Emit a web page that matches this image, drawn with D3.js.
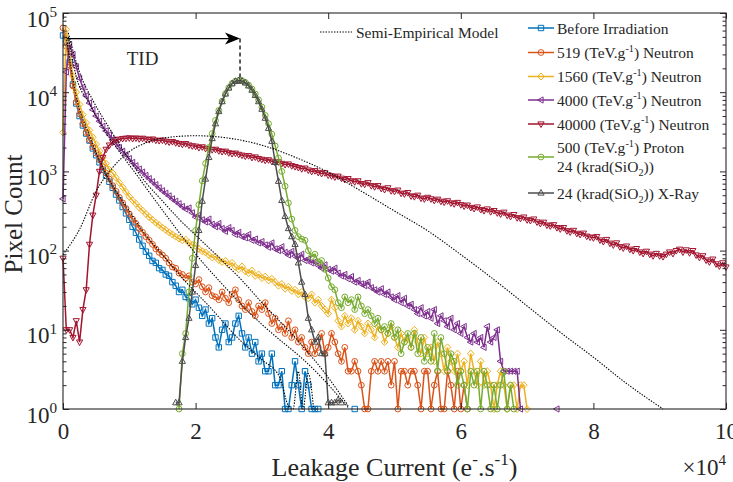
<!DOCTYPE html>
<html>
<head>
<meta charset="utf-8">
<script src="https://cdnjs.cloudflare.com/ajax/libs/d3/7.8.5/d3.min.js"></script>
<style>
body { margin: 0; background: #fff; }
svg { font-family: "Liberation Serif", "Times New Roman", serif; }
</style>
</head>
<body>
<svg id="chart" width="733" height="482"></svg>
<script>
// histogram bins, e-/s
var binWidth = 500;

var blueStart = 0;
var blueCounts = [52000,45000,24000,12500,7200,5000,3800,3000,2450,1950,
    1600,1300,1050,880,740,620,510,430,355,295,
    245,200,168,138,115,97,86,74,70,60,
    57,50,48,40,36,30,32,26,25,21,
    24,19,15,18,12,14,8,6,10,12,
    7,8,12,15,9,6,8,5,7,4,
    5,3,3,5,2,2,3,1,1,2,
    4,2,1,3,2,1,1,1,null,null,
    null,null,null,null,null,null,null,null,1];

var orangeStart = 0;
var orangeCounts = [65000,38000,22000,12000,7500,5300,4000,3100,2500,2050,
    1700,1400,1150,950,800,660,560,470,400,340,
    290,250,220,190,170,150,135,120,105,95,
    88,80,70,62,60,52,50,45,48,40,
    38,43,35,30,34,27,26,24,30,25,
    22,28,32,24,20,18,22,17,15,20,
    18,22,16,12,14,10,11,9,13,8,
    10,7,8,6,5,7,5,6,9,5,
    6,9,7,5,4,6,3,3,4,3,
    2,1,1,3,4,3,4,3,4,2,
    4,1,3,3,2,3,3,2,1,3,
    3,1,2,3,1,1,3,2,1,3,
    1,2,1];

var yellowStart = 0;
var yellowCounts = [3100,62000,30000,16000,10000,7000,5200,4100,3300,2700,
    2200,1800,1500,1250,1050,950,830,720,630,550,
    480,430,390,350,320,290,265,245,225,210,
    195,182,170,160,150,142,135,138,125,118,
    115,105,98,95,88,82,84,76,72,74,
    66,70,62,58,63,55,52,56,48,50,
    45,47,42,44,40,36,38,33,35,31,
    32,28,30,26,25,28,22,24,20,18,
    16,24,19,13,11,15,12,14,10,13,
    11,9,12,10,8,11,10,7,9,11,
    8,6,9,7,8,6,10,7,5,8,
    5,6,4,7,5,3,6,4,3,5,
    3,4,2,5,3,2,4,2,3,2,
    1,2,3,2,1,2,2,1,2,2,
    1];

var purpleStart = 0;
var purpleCounts = [450,18000,40000,30000,21000,15000,11500,9000,7300,6000,
    5000,4300,3700,3250,2900,2550,2250,2000,1800,1620,
    1450,1300,1180,1070,980,890,810,740,680,620,
    570,530,490,450,420,390,360,335,345,300,
    265,280,245,230,250,215,200,220,190,175,
    195,180,160,170,150,145,160,135,140,125,
    130,118,110,125,105,100,112,95,88,98,
    85,80,90,75,78,70,72,65,60,66,
    58,55,60,52,48,50,44,47,40,42,
    38,36,40,34,32,30,33,28,30,26,
    24,27,22,25,20,21,18,16,19,15,
    17,14,18,12,15,13,11,14,10,12,
    9,11,8,7,9,7,8,6,11,7,
    8,10,4,3,3,3,3,3,1,null,
    null,null,null,null,null,null,null,null,null,1];

var redStart = 0;
var redCounts = [80,10,10,8,13,7,18,32,120,280,
    500,1000,1500,1900,2150,2350,2500,2550,2600,2620,
    2650,2600,2640,2580,2620,2560,2520,2560,2480,2450,
    2480,2400,2350,2380,2300,2250,2200,2240,2150,2100,
    2080,2000,2040,1950,1920,1880,1900,1820,1780,1800,
    1720,1680,1700,1640,1600,1560,1580,1500,1520,1450,
    1420,1380,1400,1340,1300,1320,1260,1220,1240,1180,
    1150,1120,1080,1100,1040,1000,1020,970,940,960,
    900,880,850,870,820,790,810,760,740,760,
    700,690,720,660,640,660,610,590,620,570,
    560,580,530,520,540,490,480,500,460,450,
    470,450,430,445,420,410,425,400,390,405,
    380,365,375,350,340,355,330,320,335,310,
    320,300,290,305,280,270,285,260,255,265,
    245,240,250,230,220,228,210,205,212,195,
    188,195,178,172,180,165,160,166,152,148,
    145,150,136,130,138,124,118,125,112,108,
    114,104,100,106,96,92,98,90,86,92,
    86,84,90,96,92,100,104,96,102,94,
    100,88,82,86,76,72,78,68,64,70,
    62];

var greenStart = 17500;
var greenCounts = [1,5,9,30,80,180,380,760,1260,2000,
    3000,4400,5900,7700,9600,11400,12900,13800,14100,14000,
    13300,12300,11000,9500,8000,6500,5100,4000,2950,2100,
    1480,1000,650,400,250,180,150,140,135,100,
    84,90,72,75,58,45,35,32,22,19,
    26,22,24,18,26,20,16,18,15,12,
    14,10,11,9,12,8,10,5,7,9,
    6,9,5,8,4,6,4,9,3,8,
    5,3,5,4,2,3,2,1,3,2,
    3,1,3,2,1,2,1,2,3,1,
    2,1];

var grayStart = 17000;
var grayCounts = [1.2,1.2,4,8,14,30,65,180,420,800,
    1500,2600,4000,5700,7600,9500,11300,12800,13700,14000,
    13800,13100,12000,10600,9100,7600,6100,4700,3500,2400,
    1300,750,430,270,190,150,120,70,40,28,
    14,10,7,8,5,5,1.2,1.2,1.2,1.3,
    1.2];

// semi-empirical model curves
var modelWideX = [0,2500,5000,7500,10000,12500,15000,20000,25000,30000,35000,40000,45000,50000,55000,60000,65000,70000,75000,80000,85000,90500];
var modelWideY = [89,186,562,1120,1780,2290,2630,2820,2630,2140,1510,977,562,316,178,89,43,20,9.3,4.5,2.1,1];
var modelAX = [800,2000,4000,6000,8500,11000,13500,16000,18500,21000,23500,26000,30000,33000,36000,39000,43000];
var modelAY = [50000,15800,7100,3550,1780,930,480,250,132,72,42,25,11.7,7.1,4.4,2.5,1.05];
var modelBX = [800,2500,4500,7100,10000,12500,14600,17500,20700,23700,27000,30000,35000,40000,43000];
var modelBY = [56000,17800,7900,3400,1410,720,460,250,138,79,42,22,8,2.5,1.1];
var modelCX = [500,2000,4000,6000,8000,9600,12000,15000,18000,22000,26700,30000,32700,34000,34700,35500,36200,37000,37800];
var modelCY = [50000,8900,2800,1120,560,355,178,89,45,20,7.4,4.2,2.5,1.1,1,3,1,2.8,1];

var xTicks = [0, 20000, 40000, 60000, 80000, 100000];
var yMajor = [1, 10, 100, 1000, 10000, 100000];

var series = [
    { label: [["Before Irradiation"]], color: "#0072BD", marker: "square", start: blueStart, counts: blueCounts },
    { label: [["519 (TeV.g"], ["-1", "sup"], [") Neutron"]], color: "#D95319", marker: "circle", start: orangeStart, counts: orangeCounts },
    { label: [["1560 (TeV.g"], ["-1", "sup"], [") Neutron"]], color: "#EDB120", marker: "diamond", start: yellowStart, counts: yellowCounts },
    { label: [["4000 (TeV.g"], ["-1", "sup"], [") Neutron"]], color: "#7E2F8E", marker: "left", start: purpleStart, counts: purpleCounts },
    { label: [["40000 (TeV.g"], ["-1", "sup"], [") Neutron"]], color: "#A2142F", marker: "down", start: redStart, counts: redCounts },
    { label: [["500 (TeV.g"], ["-1", "sup"], [") Proton"]], label2: [["24 (krad(SiO"], ["2", "sub"], ["))"]], color: "#77AC30", marker: "circle", start: greenStart, counts: greenCounts },
    { label: [["24 (krad(SiO"], ["2", "sub"], [")) X-Ray"]], color: "#4D4D4D", marker: "up", start: grayStart, counts: grayCounts }
];

var markerPaths = {
    square: "M-2.7,-2.7H2.7V2.7H-2.7Z",
    circle: "M-2.9,0A2.9,2.9 0 1,0 2.9,0A2.9,2.9 0 1,0 -2.9,0Z",
    diamond: "M0,-3.5L3.3,0L0,3.5L-3.3,0Z",
    up: "M0,-3.5L3.1,2.1L-3.1,2.1Z",
    down: "M0,3.5L3.1,-2.1L-3.1,-2.1Z",
    left: "M-3.5,0L2.1,-3.1L2.1,3.1Z"
};

var svg = d3.select("#chart");
var textColor = "#262626";

var x = d3.scaleLinear().domain([0, 100000]).range([63, 726]);
var y = d3.scaleLog().domain([1, 1e5]).range([409, 13]);

function addRich(text, parts, size) {
    var off = 0;
    parts.forEach(function (p) {
        var target = p[1] === "sup" ? -0.42 * size : (p[1] === "sub" ? 0.28 * size : 0);
        var ts = text.append("tspan").text(p[0]).attr("dy", target - off);
        if (p[1]) ts.attr("font-size", size * 0.66);
        off = target;
    });
}

// data lines and markers
var line = d3.line()
    .defined(d => d.y != null)
    .x(d => x(d.x))
    .y(d => y(d.y));

series.forEach(function (s) {
    var pts = s.counts.map((c, i) => ({ x: s.start + i * binWidth, y: c }));
    svg.append("path")
        .datum(pts)
        .attr("d", line)
        .attr("fill", "none")
        .attr("stroke", s.color)
        .attr("stroke-width", 1.5);
    svg.append("g").selectAll("path")
        .data(pts.filter(d => d.y != null))
        .enter()
        .append("path")
        .attr("d", markerPaths[s.marker])
        .attr("transform", d => "translate(" + x(d.x) + "," + y(d.y) + ")")
        .attr("fill", "none")
        .attr("stroke", s.color)
        .attr("stroke-width", 1);
});

// model curves
var modelLine = d3.line()
    .x(d => x(d[0]))
    .y(d => y(d[1]))
    .curve(d3.curveMonotoneX);

[[modelWideX, modelWideY], [modelAX, modelAY], [modelBX, modelBY], [modelCX, modelCY]].forEach(function (m) {
    svg.append("path")
        .datum(m[0].map((v, i) => [v, m[1][i]]))
        .attr("d", modelLine)
        .attr("fill", "none")
        .attr("stroke", "#000")
        .attr("stroke-width", 1.1)
        .attr("stroke-dasharray", "1.4,1.4");
});

// TID arrow
var arrowY = y(47500), arrowX0 = x(600), arrowX1 = x(26700);
svg.append("line")
    .attr("x1", arrowX0).attr("x2", arrowX1 - 6)
    .attr("y1", arrowY).attr("y2", arrowY)
    .attr("stroke", "#000").attr("stroke-width", 1.4);
svg.append("path")
    .attr("d", "M" + arrowX1 + "," + arrowY + "l-15,-6l4,6l-4,6z")
    .attr("fill", "#000");
svg.append("line")
    .attr("x1", arrowX1).attr("x2", arrowX1)
    .attr("y1", arrowY).attr("y2", y(14000))
    .attr("stroke", "#000").attr("stroke-width", 1.3)
    .attr("stroke-dasharray", "4,3");
svg.append("text")
    .attr("x", x(12000)).attr("y", 65)
    .attr("text-anchor", "middle")
    .attr("font-size", 19)
    .attr("fill", textColor)
    .text("TID");

// axes box
svg.append("rect")
    .attr("x", 63).attr("y", 13)
    .attr("width", 663).attr("height", 396)
    .attr("fill", "none").attr("stroke", textColor).attr("stroke-width", 1.1);

var tickFont = 23;
svg.append("g")
    .attr("transform", "translate(0,409)")
    .call(d3.axisBottom(x).tickValues(xTicks).tickSize(-6).tickPadding(14)
        .tickFormat(d => d / 10000));
svg.append("g")
    .attr("transform", "translate(0,13)")
    .call(d3.axisTop(x).tickValues(xTicks).tickSize(-6).tickFormat(""));

var yMinor = y.ticks().filter(v => yMajor.indexOf(v) < 0);
svg.append("g")
    .attr("transform", "translate(63,0)")
    .call(d3.axisLeft(y).tickValues(yMinor).tickSize(-3.5).tickFormat(""));
svg.append("g")
    .attr("transform", "translate(726,0)")
    .call(d3.axisRight(y).tickValues(yMinor).tickSize(-3.5).tickFormat(""));
svg.append("g")
    .attr("transform", "translate(726,0)")
    .call(d3.axisRight(y).tickValues(yMajor).tickSize(-6).tickFormat(""));
var yAxis = svg.append("g")
    .attr("transform", "translate(63,0)")
    .call(d3.axisLeft(y).tickValues(yMajor).tickSize(-6).tickPadding(6).tickFormat(""));

yAxis.selectAll(".tick text").each(function (d) {
    var t = d3.select(this).attr("dy", null).attr("y", 13);
    addRich(t, [["10"], [String(Math.round(Math.log10(d))), "sup"]], tickFont);
});

svg.selectAll(".domain").remove();
svg.selectAll(".tick line").attr("stroke", textColor);
svg.selectAll(".tick text")
    .attr("font-family", "Liberation Serif")
    .attr("font-size", tickFont)
    .attr("fill", textColor);

// axis labels
var xl = svg.append("text")
    .attr("x", x(50000)).attr("y", 476)
    .attr("text-anchor", "middle")
    .attr("font-size", 26)
    .attr("fill", textColor);
addRich(xl, [["Leakage Current (e"], ["-", "sup"], [".s"], ["-1", "sup"], [")"]], 26);

svg.append("text")
    .attr("transform", "translate(22,214) rotate(-90)")
    .attr("text-anchor", "middle")
    .attr("font-size", 25)
    .attr("fill", textColor)
    .text("Pixel Count");

var ex = svg.append("text")
    .attr("x", 726).attr("y", 475)
    .attr("text-anchor", "end")
    .attr("font-size", tickFont)
    .attr("fill", textColor);
addRich(ex, [["\u00d710"], ["4", "sup"]], tickFont);

// legends
var legFont = 15.5;
var modelLeg = svg.append("g").attr("transform", "translate(320,32)");
modelLeg.append("line")
    .attr("x1", 0).attr("x2", 32)
    .attr("stroke", "#000").attr("stroke-width", 1.1).attr("stroke-dasharray", "1.4,1.4");
modelLeg.append("text")
    .attr("x", 36).attr("y", 5.5)
    .attr("font-size", legFont)
    .attr("fill", textColor)
    .text("Semi-Empirical Model");

var legRows = [28, 52.5, 76.5, 100, 124, 157, 193];
series.forEach(function (s, i) {
    var g = svg.append("g").attr("transform", "translate(528," + legRows[i] + ")");
    g.append("line")
        .attr("x1", 0).attr("x2", 26)
        .attr("stroke", s.color).attr("stroke-width", 1.5);
    g.append("path")
        .attr("d", markerPaths[s.marker])
        .attr("transform", "translate(13,0)")
        .attr("fill", "none")
        .attr("stroke", s.color)
        .attr("stroke-width", 1);
    var t = g.append("text")
        .attr("x", 29).attr("y", s.label2 ? -4 : 5.5)
        .attr("font-size", legFont)
        .attr("fill", textColor);
    addRich(t, s.label, legFont);
    if (s.label2) {
        var t2 = g.append("text")
            .attr("x", 29).attr("y", 15)
            .attr("font-size", legFont)
            .attr("fill", textColor);
        addRich(t2, s.label2, legFont);
    }
});
</script>
</body>
</html>
